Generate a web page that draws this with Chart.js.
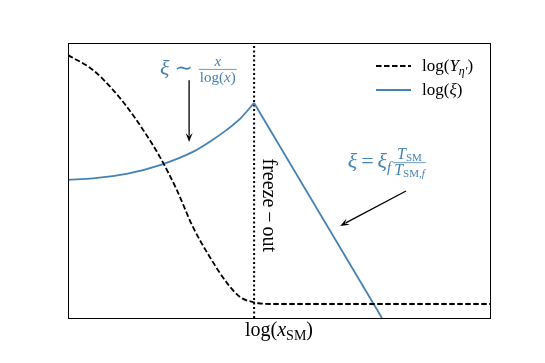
<!DOCTYPE html>
<html>
<head>
<meta charset="utf-8">
<script src="https://cdn.jsdelivr.net/npm/chart.js@4.4.1/dist/chart.umd.min.js"></script>
<style>
  html, body { margin: 0; padding: 0; background: #fff; }
  #wrap { width: 545px; height: 363px; }
</style>
</head>
<body>
<div id="wrap"><canvas id="chart"></canvas></div>
<script>
// data (arbitrary units, x and y both 0..10)
const yieldX = [0, 0.59, 1.07, 1.40, 1.78, 2.18, 2.58, 2.96, 3.36, 3.77, 4.08, 4.38, 4.79, 5.5, 10];
const yieldY = [9.56, 9.02, 8.29, 7.67, 6.84, 5.85, 4.65, 3.31, 2.22, 1.27, 0.76, 0.58, 0.51, 0.51, 0.51];

const xiX = [0, 0.60, 1.39, 2.18, 2.97, 3.37, 3.76, 4.10, 4.41];
const xiY = [5.02, 5.08, 5.24, 5.56, 6.05, 6.42, 6.84, 7.28, 7.82];
const xiAfterX = [4.41, 7.44];
const xiAfterY = [7.82, 0];

const freezeOut = 4.41;

const blue = '#4682b4';
const serif = '"Liberation Serif", "DejaVu Serif", serif';

const pts = (xs, ys) => xs.map((x, i) => ({ x: x, y: ys[i] }));

// draw a run of text pieces: {t, it, sz, dy}
function measureRun(ctx, parts) {
	let w = 0;
	for (const p of parts) {
		ctx.font = (p.it ? 'italic ' : '') + p.sz + 'px ' + serif;
		w += ctx.measureText(p.t).width + (p.gap || 0);
	}
	return w;
}
function drawRun(ctx, parts, x, y, color) {
	ctx.fillStyle = color;
	ctx.textBaseline = 'alphabetic';
	ctx.textAlign = 'left';
	for (const p of parts) {
		ctx.font = (p.it ? 'italic ' : '') + p.sz + 'px ' + serif;
		ctx.fillText(p.t, x, y + (p.dy || 0));
		x += ctx.measureText(p.t).width + (p.gap || 0);
	}
	return x;
}
function drawFrac(ctx, num, den, x, y, color) {
	const nw = measureRun(ctx, num), dw = measureRun(ctx, den);
	const w = Math.max(nw, dw) + 2;
	drawRun(ctx, num, x + (w - nw) / 2, y - 9, color);
	drawRun(ctx, den, x + (w - dw) / 2, y + 7, color);
	ctx.strokeStyle = color;
	ctx.lineWidth = 0.8;
	ctx.beginPath();
	ctx.moveTo(x, y - 5.5);
	ctx.lineTo(x + w, y - 5.5);
	ctx.stroke();
	return x + w;
}
function arrow(ctx, x1, y1, x2, y2) {
	const a = Math.atan2(y2 - y1, x2 - x1);
	const hl = 9, hw = 3.5;
	const c = Math.cos(a), s = Math.sin(a);
	ctx.strokeStyle = '#000';
	ctx.fillStyle = '#000';
	ctx.lineWidth = 1.3;
	ctx.beginPath();
	ctx.moveTo(x1, y1);
	ctx.lineTo(x2 - c * hl * 0.7, y2 - s * hl * 0.7);
	ctx.stroke();
	ctx.beginPath();
	ctx.moveTo(x2, y2);
	ctx.lineTo(x2 - c * hl - s * hw, y2 - s * hl + c * hw);
	ctx.lineTo(x2 - c * hl * 0.6, y2 - s * hl * 0.6);
	ctx.lineTo(x2 - c * hl + s * hw, y2 - s * hl - c * hw);
	ctx.closePath();
	ctx.fill();
}

const extras = {
	id: 'extras',
	afterDraw(chart) {
		const ctx = chart.ctx;
		const a = chart.chartArea;
		const sx = chart.scales.x, sy = chart.scales.y;
		const px = (v) => sx.getPixelForValue(v), py = (v) => sy.getPixelForValue(v);
		ctx.save();

		// frame
		ctx.strokeStyle = '#000';
		ctx.lineWidth = 1;
		ctx.strokeRect(a.left + 0.5, a.top + 0.5, a.right - a.left, a.bottom - a.top);

		// x label log(x_SM)
		const xl = [
			{ t: 'log(', sz: 20 }, { t: 'x', it: true, sz: 20 },
			{ t: 'SM', sz: 14, dy: 4 }, { t: ')', sz: 20 }
		];
		drawRun(ctx, xl, (a.left + a.right) / 2 - measureRun(ctx, xl) / 2, a.bottom + 18, '#000');

		// legend
		const lx = 376, ly1 = 66, ly2 = 90;
		ctx.strokeStyle = '#000';
		ctx.lineWidth = 1.8;
		ctx.setLineDash([5.5, 2.5]);
		ctx.beginPath(); ctx.moveTo(lx, ly1); ctx.lineTo(lx + 35, ly1); ctx.stroke();
		ctx.setLineDash([]);
		ctx.strokeStyle = blue;
		ctx.beginPath(); ctx.moveTo(lx, ly2); ctx.lineTo(lx + 35, ly2); ctx.stroke();
		drawRun(ctx, [
			{ t: 'log(', sz: 17 }, { t: 'Y', it: true, sz: 17 },
			{ t: 'η′', it: true, sz: 12, dy: 4 }, { t: ')', sz: 17 }
		], 422, ly1 + 5, '#000');
		drawRun(ctx, [
			{ t: 'log(', sz: 17 }, { t: 'ξ', it: true, sz: 17 }, { t: ')', sz: 17 }
		], 422, ly2 + 5, '#000');

		// annotation xi ~ x / log(x)
		let x = drawRun(ctx, [{ t: 'ξ', it: true, sz: 22, gap: 5 }, { t: '∼', sz: 22, gap: 6 }], px(2.18), py(8.84), blue);
		drawFrac(ctx, [{ t: 'x', it: true, sz: 15 }], [{ t: 'log(', sz: 15 }, { t: 'x', it: true, sz: 15 }, { t: ')', sz: 15 }], x, py(8.84), blue);
		arrow(ctx, px(2.87), py(8.65), px(2.87), py(6.4));

		// annotation xi = xi_f T_SM / T_SM,f
		x = drawRun(ctx, [
			{ t: 'ξ', it: true, sz: 22, gap: 4 }, { t: '=', sz: 22, gap: 4 },
			{ t: 'ξ', it: true, sz: 22 }, { t: 'f', it: true, sz: 15, dy: 4, gap: 2 }
		], px(6.63), py(5.45), blue);
		drawFrac(ctx,
			[{ t: 'T', it: true, sz: 16 }, { t: 'SM', sz: 11, dy: 2 }],
			[{ t: 'T', it: true, sz: 16 }, { t: 'SM,', sz: 11, dy: 2 }, { t: 'f', it: true, sz: 11, dy: 2 }],
			x, py(5.45), blue);
		arrow(ctx, px(8.01), py(4.62), px(6.45), py(3.35));

		// freeze-out label, rotated
		ctx.translate(px(freezeOut) + 9, py(5.8));
		ctx.rotate(Math.PI / 2);
		const fo = [{ t: 'freeze', sz: 20, gap: 4 }, { t: '−', sz: 20, gap: 4 }, { t: 'out', sz: 20 }];
		drawRun(ctx, fo, 0, 0, '#000');

		ctx.restore();
	}
};

new Chart(document.getElementById('chart'), {
	type: 'line',
	data: {
		datasets: [
			{
				data: pts(yieldX, yieldY),
				borderColor: '#000',
				borderWidth: 1.8,
				borderDash: [5.5, 2.5],
				pointRadius: 0,
				cubicInterpolationMode: 'monotone'
			},
			{
				data: pts(xiX, xiY),
				borderColor: blue,
				borderWidth: 1.8,
				pointRadius: 0,
				cubicInterpolationMode: 'monotone'
			},
			{
				data: pts(xiAfterX, xiAfterY),
				borderColor: blue,
				borderWidth: 1.8,
				pointRadius: 0
			},
			{
				data: [{ x: freezeOut, y: 0 }, { x: freezeOut, y: 10 }],
				borderColor: '#000',
				borderWidth: 2,
				borderDash: [2, 2.5],
				pointRadius: 0
			}
		]
	},
	options: {
		responsive: true,
		maintainAspectRatio: false,
		animation: false,
		layout: { padding: { left: 68, right: 55, top: 43, bottom: 45 } },
		plugins: { legend: { display: false }, tooltip: { enabled: false } },
		scales: {
			x: { type: 'linear', min: 0, max: 10, display: false },
			y: { type: 'linear', min: 0, max: 10, display: false }
		}
	},
	plugins: [extras]
});
</script>
</body>
</html>
